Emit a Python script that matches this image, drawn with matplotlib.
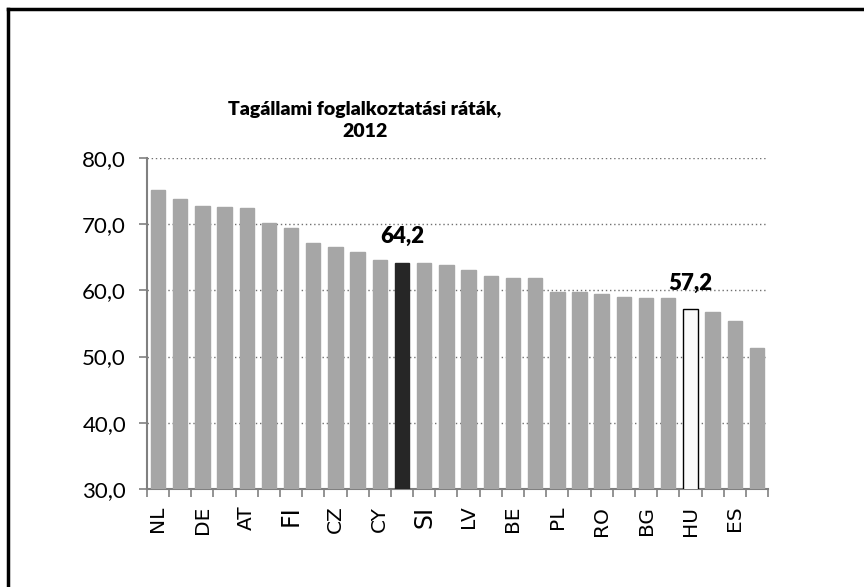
import numpy as np
import matplotlib
matplotlib.use("Agg")
import matplotlib.pyplot as plt
from matplotlib.lines import Line2D

# employment rates 2012, sorted (EU27 average = black bar, HU = white bar)
countries = ["NL", "SE", "DE", "DK", "AT", "UK", "FI", "EE", "CZ", "LU",
             "CY", "EU27", "SI", "FR", "LV", "LT", "BE", "PT", "PL", "SK",
             "RO", "MT", "BG", "IE", "HU", "IT", "ES", "EL"]
rates = [75.1, 73.8, 72.8, 72.6, 72.5, 70.1, 69.4, 67.1, 66.5, 65.8,
         64.6, 64.2, 64.1, 63.8, 63.1, 62.2, 61.8, 61.8, 59.7, 59.7,
         59.5, 59.0, 58.8, 58.8, 57.2, 56.7, 55.4, 51.3]
# only every second category is labelled on the axis
shown_labels = ["NL", "", "DE", "", "AT", "", "FI", "", "CZ", "",
                "CY", "", "SI", "", "LV", "", "BE", "", "PL", "",
                "RO", "", "BG", "", "HU", "", "ES", ""]
yticks = [30, 40, 50, 60, 70, 80]

avg_idx = countries.index("EU27")
hu_idx = countries.index("HU")

colors = ["#a6a6a6"] * len(rates)
colors[avg_idx] = "#262626"
colors[hu_idx] = "#fafafa"
edges = ["#a6a6a6"] * len(rates)
edges[avg_idx] = "#262626"
edges[hu_idx] = "black"

fig = plt.figure(figsize=(8.64, 5.87), dpi=100)
ax = fig.add_axes([0.170, 0.167, 0.719, 0.564])

x = np.arange(len(rates))
ax.bar(x, rates, width=0.65, color=colors, edgecolor=edges, linewidth=1.0,
       zorder=3)

ax.set_xlim(-0.5, len(rates) - 0.5)
ax.set_ylim(30, 80)
ax.set_yticks(yticks)
ax.set_yticklabels([("%.1f" % v).replace(".", ",") for v in yticks],
                   fontsize=16, family="Lato")
ax.yaxis.grid(True, linestyle=(0, (1, 2)), color="#707070", linewidth=1.0,
              zorder=0)

# ticks between categories, labels under every second bar
ax.set_xticks(np.arange(-0.5, len(rates), 1.0), minor=False)
ax.set_xticklabels([])
ax.set_xticks(x, minor=True)
ax.set_xticklabels(shown_labels, minor=True, rotation=90, fontsize=14.5,
                   family="DejaVu Sans")
for lab in ax.get_xticklabels(minor=True):
    if lab.get_text() in ("FI", "SI"):
        lab.set_fontsize(17)
ax.tick_params(axis="x", which="minor", length=0, pad=12)
ax.tick_params(axis="x", which="major", length=6, color="#808080", width=1.2)
ax.tick_params(axis="y", length=6, color="#808080", width=1.2, pad=9)

for s in ["top", "right"]:
    ax.spines[s].set_visible(False)
for s in ["left", "bottom"]:
    ax.spines[s].set_color("#808080")
    ax.spines[s].set_linewidth(1.5)

for i in (avg_idx, hu_idx):
    ax.annotate(("%.1f" % rates[i]).replace(".", ","), (x[i], rates[i]),
                xytext=(0, 11), textcoords="offset points", ha="center",
                va="bottom", fontsize=16, fontweight="heavy",
                family="Lato", zorder=5)

fig.text(0.422, 0.762, "Tagállami foglalkoztatási ráták,\n2012", ha="center",
         va="bottom", fontsize=14, fontweight="heavy", family="Lato",
         linespacing=1.35)

# frame: only left and top edges visible
fig.add_artist(Line2D([8 / 864, 8 / 864], [0, 1 - 9 / 587], color="black",
                      linewidth=2.5, transform=fig.transFigure))
fig.add_artist(Line2D([8 / 864, 1], [1 - 9 / 587, 1 - 9 / 587], color="black",
                      linewidth=2.5, transform=fig.transFigure))

fig.savefig("out.png", dpi=100)
